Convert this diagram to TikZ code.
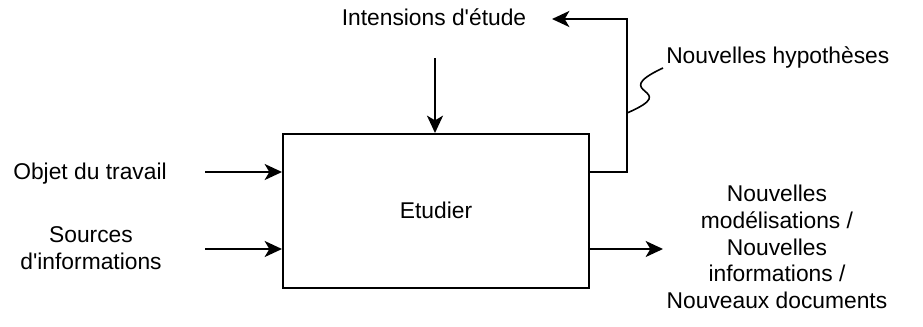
\documentclass[tikz,border=0pt]{standalone}
\usepackage{fontspec}
\setmainfont{Liberation Sans}
\usetikzlibrary{arrows.meta}
\begin{document}
\begin{tikzpicture}[x=0.75pt,y=-0.75pt,
  lbl/.style={inner sep=0pt,align=center,font=\fontsize{17.1}{20}\selectfont},
  wire/.style={line width=1.5pt},
  arr/.style={wire,-{Stealth[length=13pt,width=12pt,inset=3.5pt]}},
  box/.style={draw,line width=1.5pt,minimum width=229.5pt,minimum height=115.5pt,inner sep=0pt}]
\useasboundingbox (0,0) rectangle (923,326);
\node[box] (etud) at (436,211) {};
\node[lbl,anchor=base] (etudt) at (436,218) {Etudier};
\node[lbl,anchor=base] (inten) at (434,25) {Intensions d\textquotesingle étude};
\node[lbl,anchor=base] (objet) at (90,179) {Objet du travail};
\node[lbl,anchor=center] (sources) at (91,248) {Sources\\d\textquotesingle informations};
\node[lbl,anchor=base west] (hyp) at (666,63) {Nouvelles hypothèses};
\node[lbl,anchor=center] (nouv) at (777,247) {Nouvelles\\modélisations /\\Nouvelles\\informations /\\Nouveaux documents};
% input arrows
\coordinate (a1) at (205,172);
\coordinate (a2) at (205,249);
\draw[arr] (a1) -- (a1 -| etud.west);
\draw[arr] (a2) -- (a2 -| etud.west);
% control arrow
\coordinate (c1) at (435,58);
\draw[arr] (c1) -- (c1 |- etud.north);
% output arrow
\coordinate (o1) at (663,249);
\draw[arr] (o1 -| etud.east) -- (o1);
% feedback
\coordinate (f0) at (589,172);
\coordinate (f1) at (627,172);
\coordinate (f2) at (627,19);
\coordinate (f3) at (552,19);
\draw[arr] (f0) -- (f1) -- (f2) -- (f3);
% squiggle callout
\coordinate (s0) at (627,113);
\coordinate (s1) at (663,68);
\draw[line width=1.2pt] (s0) .. controls (685,88) and (605,95) .. (s1);
\end{tikzpicture}
\end{document}
